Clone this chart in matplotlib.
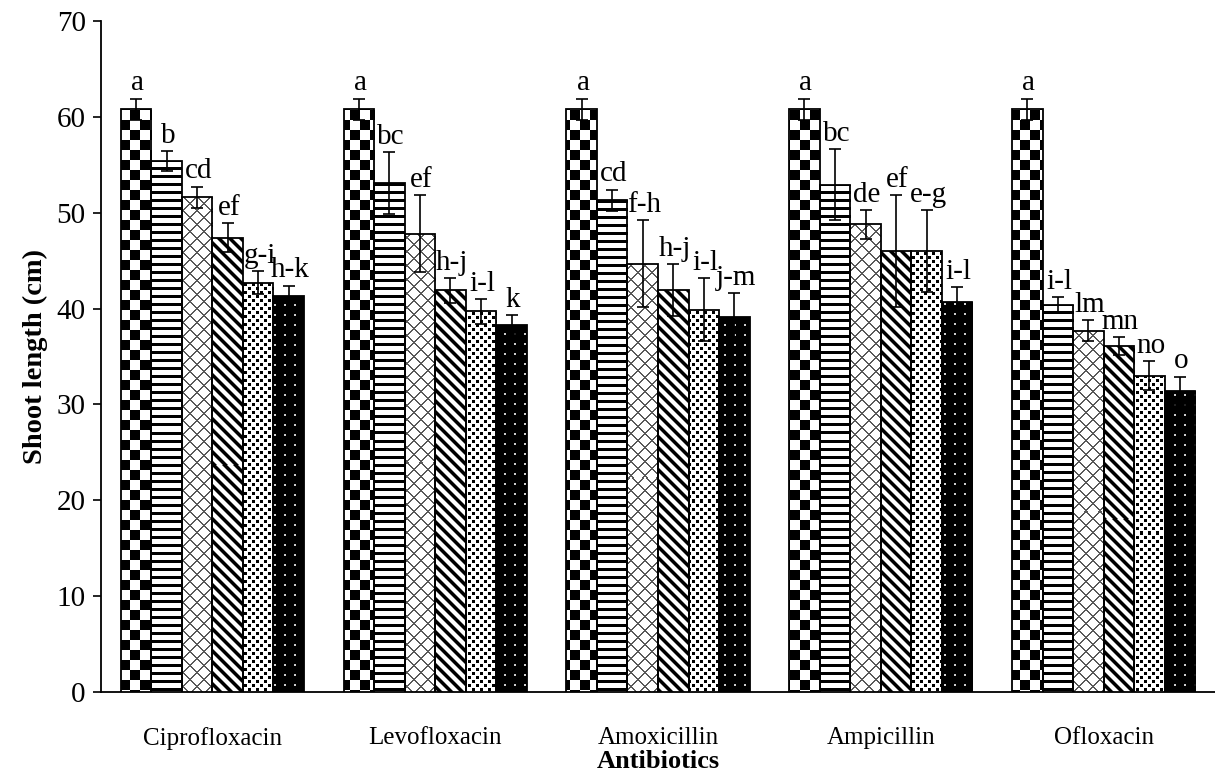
import numpy as np
import matplotlib
matplotlib.use("Agg")
import matplotlib.pyplot as plt

# ---------------- data ----------------
categories = ["Ciprofloxacin", "Levofloxacin", "Amoxicillin", "Ampicillin", "Ofloxacin"]

s1 = [60.8, 60.8, 60.8, 60.8, 60.8]
s2 = [55.4, 53.1, 51.3, 52.9, 40.4]
s3 = [51.6, 47.8, 44.7, 48.8, 37.7]
s4 = [47.4, 41.9, 41.9, 46.0, 36.1]
s5 = [42.7, 39.7, 39.9, 46.0, 33.0]
s6 = [41.3, 38.3, 39.1, 40.7, 31.4]

e1 = [1.1, 1.1, 1.1, 1.1, 1.1]
e2 = [1.0, 3.2, 1.1, 3.7, 0.8]
e3 = [1.1, 4.0, 4.5, 1.5, 1.1]
e4 = [1.5, 1.3, 2.7, 5.8, 0.9]
e5 = [1.2, 1.3, 3.3, 4.3, 1.5]
e6 = [1.1, 1.0, 2.5, 1.5, 1.5]

l1 = ["a", "a", "a", "a", "a"]
l2 = ["b", "bc", "cd", "bc", "i-l"]
l3 = ["cd", "ef", "f-h", "de", "lm"]
l4 = ["ef", "h-j", "h-j", "ef", "mn"]
l5 = ["g-i", "i-l", "i-l", "e-g", "no"]
l6 = ["h-k", "k", "j-m", "i-l", "o"]

yticks = [0, 10, 20, 30, 40, 50, 60, 70]

series = [s1, s2, s3, s4, s5, s6]
errors = [e1, e2, e3, e4, e5, e6]
letters = [l1, l2, l3, l4, l5, l6]

# ---------------- patterns (pixel space) ----------------
def pat_checker(X, Y):
    return ((X // 10 + Y // 10) % 2).astype(float)

def pat_hstripes(X, Y):
    return np.where((Y % 8) < 3, 0.0, 1.0)

def pat_cross(X, Y):
    d1 = (X + Y) % 14
    d2 = (X - Y) % 14
    out = np.ones(X.shape)
    out[(d1 < 1.5) | (d2 < 1.5)] = 0.35
    return out

def pat_diag(X, Y):
    d = (X - Y) % 11
    out = np.ones(X.shape)
    out[d < 4] = 0.0
    out[(d >= 4) & (d < 5)] = 0.5
    out[d >= 10] = 0.5
    return out

def pat_dots(X, Y):
    cx = X // 4
    cy = Y // 4
    black = ((cx + cy) % 2 == 0) & ((X % 4) < 3) & ((Y % 4) < 3)
    return np.where(black, 0.0, 1.0)

def pat_black_dots(X, Y):
    white = ((X % 10) >= 4) & ((X % 10) < 6) & ((Y % 10) >= 4) & ((Y % 10) < 6)
    return np.where(white, 0.8, 0.0)

patterns = [pat_checker, pat_hstripes, pat_cross, pat_diag, pat_dots, pat_black_dots]

# ---------------- figure ----------------
plt.rcParams["font.family"] = ["Liberation Serif", "DejaVu Serif"]
FS_TICK_Y = 21
FS_TICK_X = 18
FS_LETTER = 21
FS_XLABEL = 19
FS_YLABEL = 20.5
W, H, DPI = 1215, 774, 100
fig = plt.figure(figsize=(W / DPI, H / DPI), dpi=DPI)
ax = fig.add_axes([101 / W, 1 - 692 / H, (W - 101) / W, (692 - 21) / H])
ax.set_xlim(-0.5, len(categories) - 0.5)
ax.set_ylim(0, 70)

n = len(series)
bw = 0.137
xbase = np.arange(len(categories))

for i in range(n):
    xs = xbase + (i - (n - 1) / 2) * bw
    bars = ax.bar(xs, series[i], width=bw, facecolor="white", edgecolor="none", zorder=2)
    for rect in bars:
        x0, x1 = rect.get_x(), rect.get_x() + rect.get_width()
        h = rect.get_height()
        (px0, py0), (px1, py1) = ax.transData.transform([(x0, 0), (x1, h)])
        wpx = max(int(round(px1 - px0)), 1)
        hpx = max(int(round(py1 - py0)), 1)
        X, Yd = np.meshgrid(np.arange(wpx) + int(round(px0)),
                            np.arange(hpx) + int(round(H - py1)))
        img = patterns[i](X, Yd)
        im = ax.imshow(img, extent=(x0, x1, 0, h), origin="upper", cmap="gray",
                       vmin=0, vmax=1, interpolation="nearest", aspect="auto", zorder=3)
        im.set_clip_path(rect)
    ax.bar(xs, series[i], width=bw, facecolor="none", edgecolor="black",
           linewidth=1.3, zorder=4)
    ax.errorbar(xs, series[i], yerr=errors[i], fmt="none", ecolor="black",
                elinewidth=1.2, capsize=4, capthick=1.2, zorder=5)
    for x, v, e, t in zip(xs, series[i], errors[i], letters[i]):
        ax.annotate(t, (x, v + e), xytext=(1, 6), textcoords="offset points",
                    ha="center", va="baseline", fontsize=FS_LETTER, zorder=6)

ax.set_xlim(-0.5, len(categories) - 0.5)
ax.set_ylim(0, 70)
ax.set_yticks(yticks)
ax.set_xticks(xbase)
ax.set_xticklabels(categories)
ax.tick_params(axis="y", direction="out", length=6, width=1.2, labelsize=FS_TICK_Y, pad=5)
ax.tick_params(axis="x", length=0, labelsize=FS_TICK_X, pad=25)
for s in ["top", "right"]:
    ax.spines[s].set_visible(False)
for s in ["left", "bottom"]:
    ax.spines[s].set_linewidth(1.3)
    ax.spines[s].set_color("black")

ax.set_ylabel("Shoot length (cm)", fontsize=FS_YLABEL, fontweight="bold", labelpad=6)
ax.set_xlabel("Antibiotics", fontsize=FS_XLABEL, fontweight="bold", labelpad=0)

fig.savefig("out.png", dpi=DPI)
